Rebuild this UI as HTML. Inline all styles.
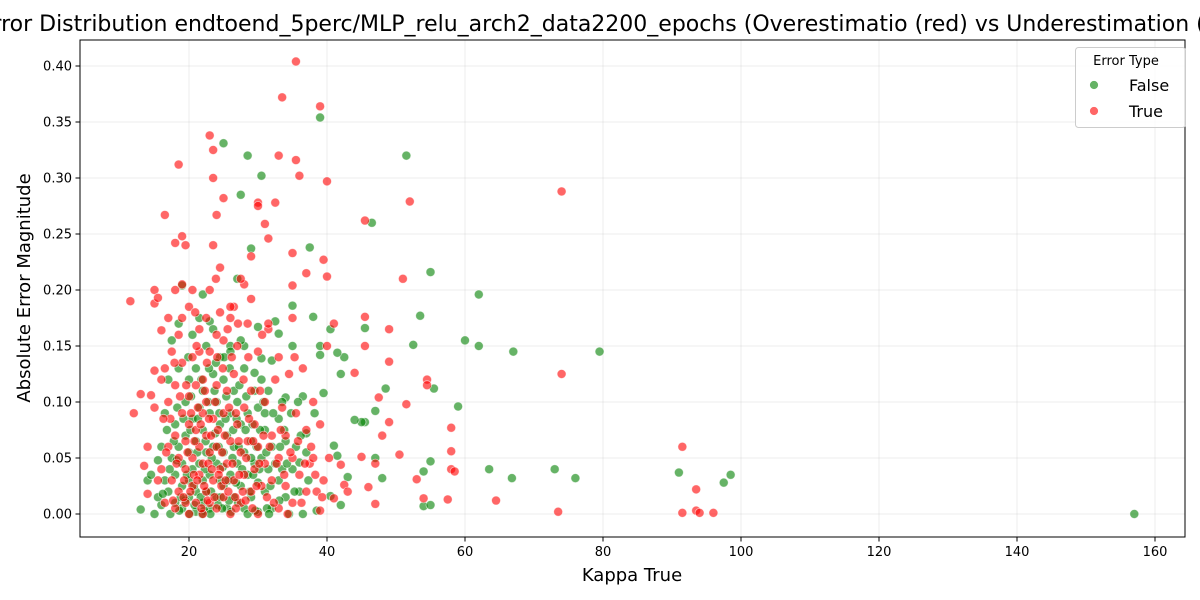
<!DOCTYPE html>
<html><head><meta charset="utf-8">
<style>
html,body{margin:0;padding:0;background:#fff;}
svg{display:block;font-family:"DejaVu Sans","Liberation Sans",sans-serif;}
</style></head>
<body>
<svg id="chart" width="1200" height="600" viewBox="0 0 1200 600">
<text x="632" y="31" font-size="22" text-anchor="middle" fill="#000">Error Distribution endtoend_5perc/MLP_relu_arch2_data2200_epochs (Overestimatio (red) vs Underestimation (green))</text>
<g id="grid"></g>
<g id="points"></g>
<rect x="80" y="40" width="1105" height="497" fill="none" stroke="#000" stroke-width="1"/>
<g id="ticks"></g>
<text x="632" y="581" font-size="18" text-anchor="middle">Kappa True</text>
<text x="30" y="288" font-size="18" text-anchor="middle" transform="rotate(-90 30 288)">Absolute Error Magnitude</text>
<g>
<rect x="1075.5" y="47.5" width="110" height="80" rx="3" fill="#fff" fill-opacity="0.8" stroke="#ccc"/>
<text x="1126" y="65" font-size="13" text-anchor="middle">Error Type</text>
<g><circle cx="1094" cy="85" r="4.5" fill="green" fill-opacity="0.6" stroke="#fff" stroke-width="0.8"/><text x="1129" y="91" font-size="16">False</text></g>
<g><circle cx="1094" cy="111" r="4.5" fill="red" fill-opacity="0.6" stroke="#fff" stroke-width="0.8"/><text x="1129" y="117" font-size="16">True</text></g>
</g>
</svg>
<script>
const xTicks=[20,40,60,80,100,120,140,160];
const yTicks=[0,0.05,0.1,0.15,0.2,0.25,0.3,0.35,0.4];
const yTickLabels=["0.00","0.05","0.10","0.15","0.20","0.25","0.30","0.35","0.40"];
const greenPts=[[157,0.0],[98.5,0.035],[97.5,0.028],[91,0.037],[76,0.032],[73,0.04],[79.5,0.145],[67,0.145],[66.8,0.032],[63.5,0.04],[62,0.196],[62,0.15],[60,0.155],[59,0.096],[55,0.216],[55.5,0.112],[54,0.038],[55,0.047],[54,0.007],[55,0.008],[53.5,0.177],[52.5,0.151],[51.5,0.32],[48.5,0.112],[48,0.032],[47,0.092],[47,0.05],[46.5,0.26],[45.5,0.166],[45.5,0.082],[45,0.082],[44,0.084],[43,0.033],[42.5,0.14],[42,0.125],[42,0.008],[41.5,0.144],[41.5,0.052],[41,0.061],[40.5,0.165],[40.5,0.016],[39.5,0.108],[39,0.354],[39,0.142],[39,0.15],[38.5,0.003],[38,0.176],[37.5,0.238],[37,0.072],[36.5,0.105],[36,0.046],[35,0.186],[35,0.15],[34,0.104],[33.5,0.1],[33,0.161],[32.5,0.172],[32,0.137],[31,0.09],[30.5,0.302],[30.5,0.139],[30,0.167],[29.5,0.126],[29,0.237],[28.5,0.32],[28,0.15],[27.5,0.285],[27,0.21],[26,0.15],[25,0.331],[23,0.172],[22,0.196],[19,0.204],[18.5,0.17],[13,0.004],[14,0.03],[15,0.0],[15.5,0.048],[16,0.008],
[17,0.02],[17.5,0.05],[18,0.01],[18,0.035],[18.5,0.06],[19,0.005],[19,0.025],[19,0.045],[19.5,0.07],[19.5,0.1],[20,0.015],[20,0.03],[20,0.055],[20,0.12],[20.5,0.04],[20.5,0.085],[21,0.002],[21,0.02],[21,0.065],[21,0.13],[21.5,0.045],[21.5,0.095],[22,0.01],[22,0.03],[22,0.075],[22,0.11],[22.5,0.055],[22.5,0.15],[23,0.005],[23,0.035],[23,0.09],[23.5,0.06],[23.5,0.125],[24,0.015],[24,0.045],[24,0.1],[24.5,0.08],[24.5,0.14],[25,0.025],[25,0.055],[25,0.12],[25.5,0.005],[25.5,0.07],[26,0.035],[26,0.09],[26,0.145],[26.5,0.015],[26.5,0.06],[27,0.045],[27,0.1],[27.5,0.025],[27.5,0.08],[28,0.005],[28,0.055],[28,0.13],[28.5,0.035],[28.5,0.09],[29,0.015],[29,0.065],[29.5,0.045],[29.5,0.11],[30,0.002],[30,0.028],[30,0.095],[30.5,0.05],[31,0.02],[31,0.075],[31.5,0.04],[31.5,0.11],[32,0.005],[32,0.06],[33,0.03],[33,0.085],[34,0.015],[34,0.065],[35,0.04],[36,0.02],[37,0.055],[16,0.06],[16.5,0.09],[17,0.12],[17.5,0.155],[18,0.08],[18.5,0.13],[16.5,0.03],[15.5,0.015],[14.5,0.035],[20.5,0.16],[21.5,0.175],[22.5,0.02],[23.5,0.165],[24.5,0.03],[26.5,0.11],[27.5,0.155],[28.5,0.0],[29,0.05],[30.5,0.12],[33.5,0.04],[34.5,0.0],[35.5,0.06],[36.5,0.0],[19.5,0.012],[20.8,0.008],[22.2,0.003],[24.2,0.008],[25.8,0.012],[18.2,0.048],[23.8,0.072],[26.8,0.028],
[16.8,0.075],[17.2,0.04],[17.8,0.065],[18.3,0.095],[18.8,0.015],[19.2,0.085],[19.7,0.035],[20.2,0.075],[20.3,0.105],[20.7,0.025],[21.2,0.055],[21.3,0.085],[21.7,0.015],[21.8,0.12],[22.3,0.04],[22.4,0.065],[22.8,0.1],[23.2,0.02],[23.3,0.05],[23.7,0.11],[23.9,0.135],[24.3,0.06],[24.4,0.09],[24.8,0.005],[24.9,0.042],[25.3,0.085],[25.4,0.105],[25.7,0.03],[25.9,0.13],[26.3,0.05],[26.4,0.075],[26.9,0.085],[27.2,0.06],[27.3,0.115],[27.7,0.04],[28.2,0.075],[28.3,0.105],[28.8,0.02],[29.2,0.08],[29.3,0.035],[29.8,0.06],[30.2,0.04],[30.3,0.075],[30.8,0.1],[31.2,0.055],[31.3,0.005],[31.8,0.025],[32.2,0.09],[32.5,0.045],[33.2,0.06],[33.8,0.075],[34.2,0.045],[34.8,0.09],[35.3,0.02],[35.8,0.1],[36.2,0.07],[37.3,0.03],[38.2,0.09],[20.1,0.0],[21.9,0.0],[23.1,0.0],[24.6,0.015],[26.1,0.002],[27.1,0.01],[29.6,0.003],[31.6,0.0],[33.1,0.012],[17.3,0.0],[18.6,0.003],[16.2,0.018],[19.9,0.14],[22.9,0.13],[25.1,0.14]];
const redPts=[[11.5,0.19],[13,0.107],[13.5,0.043],[14,0.018],[14.5,0.106],[15,0.2],[15,0.188],[15,0.128],[15.5,0.193],[16,0.164],[16.5,0.267],[18.5,0.312],[19,0.248],[19.5,0.24],[18,0.242],[23,0.338],[23.5,0.325],[23.5,0.3],[24,0.267],[25,0.282],[26.5,0.185],[29,0.192],[30,0.278],[30,0.275],[31,0.259],[31.5,0.246],[32.5,0.278],[33,0.32],[33.5,0.372],[35.5,0.404],[35.5,0.316],[36,0.302],[39,0.364],[40,0.297],[39.5,0.227],[40,0.212],[37,0.215],[35,0.233],[35,0.204],[35,0.175],[44,0.126],[45.5,0.262],[45.5,0.176],[45.5,0.15],[49,0.165],[49,0.136],[51,0.21],[52,0.279],[51.5,0.098],[50.5,0.053],[48,0.07],[47.5,0.104],[47,0.045],[46,0.024],[47,0.009],[45,0.051],[42,0.044],[42.5,0.026],[41,0.014],[39,0.003],[43,0.02],[49,0.082],[54.5,0.12],[54.5,0.115],[53,0.031],[54,0.014],[57.5,0.013],[58,0.04],[58,0.056],[58,0.077],[58.5,0.038],[64.5,0.012],[74,0.288],[74,0.125],[73.5,0.002],[91.5,0.06],[91.5,0.001],[93.5,0.022],[93.5,0.003],[94,0.001],[96,0.001],
[16,0.04],[16.5,0.01],[16.5,0.13],[17,0.06],[17,0.1],[17.5,0.03],[17.5,0.145],[18,0.005],[18,0.07],[18,0.115],[18.5,0.02],[18.5,0.05],[18.5,0.16],[19,0.09],[19,0.135],[19,0.175],[19.5,0.01],[19.5,0.04],[19.5,0.065],[20,0.0],[20,0.08],[20,0.105],[20,0.185],[20.5,0.025],[20.5,0.05],[20.5,0.14],[21,0.01],[21,0.075],[21,0.115],[21.5,0.035],[21.5,0.06],[21.5,0.165],[22,0.0],[22,0.045],[22,0.09],[22,0.12],[22.5,0.02],[22.5,0.07],[22.5,0.1],[23,0.01],[23,0.055],[23,0.145],[23,0.2],[23.5,0.03],[23.5,0.085],[23.5,0.24],[24,0.005],[24,0.06],[24,0.115],[24,0.16],[24.5,0.04],[24.5,0.22],[25,0.015],[25,0.09],[25,0.155],[25.5,0.045],[25.5,0.11],[26,0.0],[26,0.065],[26,0.175],[26.5,0.03],[26.5,0.125],[27,0.08],[27,0.15],[27.5,0.01],[27.5,0.055],[28,0.035],[28,0.095],[28,0.205],[28.5,0.065],[28.5,0.17],[29,0.02],[29,0.11],[29.5,0.04],[29.5,0.08],[30,0.0],[30,0.06],[30,0.145],[30.5,0.025],[31,0.045],[31,0.1],[31.5,0.165],[32,0.03],[32,0.07],[32.5,0.12],[33,0.005],[33,0.05],[33,0.14],[33.5,0.095],[34,0.025],[34,0.07],[34.5,0.125],[35,0.01],[35,0.05],[35.5,0.09],[36,0.035],[36.5,0.13],[37,0.02],[37,0.075],[37.5,0.045],[38,0.1],[38,0.05],[38.5,0.02],[39,0.08],[39.5,0.03],[40,0.15],[41,0.17],[12,0.09],[14,0.06],[15,0.095],[15.5,0.03],[16,0.12],[17,0.175],[18,0.2],[19,0.205],[20.5,0.2],[21.5,0.145],[22.5,0.175],[24.5,0.18],[26,0.185],[27.5,0.21],[29,0.23],[31.5,0.17],[19.2,0.015],[20.7,0.035],[22.7,0.012],[24.7,0.025],[26.8,0.005],[28.2,0.012],
[16.7,0.055],[17.3,0.085],[17.7,0.012],[18.2,0.045],[18.7,0.105],[19.3,0.03],[19.8,0.055],[20.2,0.02],[20.3,0.09],[20.8,0.065],[21.2,0.03],[21.3,0.095],[21.8,0.005],[21.7,0.08],[22.2,0.025],[22.3,0.11],[22.8,0.045],[22.9,0.085],[23.3,0.04],[23.2,0.07],[23.7,0.015],[23.8,0.1],[24.3,0.035],[24.2,0.075],[24.8,0.055],[24.9,0.13],[25.3,0.03],[25.2,0.07],[25.7,0.02],[25.8,0.095],[26.3,0.045],[26.2,0.14],[26.7,0.015],[26.8,0.09],[27.3,0.035],[27.2,0.065],[27.8,0.02],[27.9,0.12],[28.3,0.05],[28.7,0.085],[29.2,0.005],[29.3,0.065],[29.8,0.025],[30.2,0.045],[30.3,0.11],[30.8,0.07],[31.3,0.015],[31.7,0.06],[32.3,0.01],[32.7,0.045],[33.3,0.075],[33.8,0.035],[34.3,0.0],[34.7,0.055],[35.3,0.14],[35.8,0.065],[36.3,0.01],[36.8,0.045],[37.7,0.06],[38.3,0.035],[39.3,0.015],[40.3,0.05],[19.6,0.115],[21.1,0.15],[22.6,0.135],[24.1,0.14],[25.6,0.165],[27.1,0.17],[28.6,0.14],[30.6,0.16],[20.9,0.18],[23.9,0.21],[17.9,0.135],[16.3,0.085]];

const NS="http://www.w3.org/2000/svg";
function xs(v){return 51+v*6.9;}
function ys(v){return 514-v*1120;}
const grid=document.getElementById('grid'),ticks=document.getElementById('ticks'),pts=document.getElementById('points');
function mk(tag,attrs,parent){const e=document.createElementNS(NS,tag);for(const k in attrs)e.setAttribute(k,attrs[k]);parent.appendChild(e);return e;}
xTicks.forEach(t=>{
  const x=xs(t);
  const g=mk('line',{x1:x,x2:x,y1:40,y2:537,stroke:'#b0b0b0','stroke-opacity':0.3,'stroke-width':0.8},grid);
  
  
  mk('line',{x1:x,x2:x,y1:537,y2:541.5,stroke:'#000'},ticks);
  const l=mk('text',{x:x,y:556,'font-size':13,'text-anchor':'middle'},ticks);
  l.textContent=t;
  
  
});
yTicks.forEach((t,i)=>{
  const y=ys(t);
  const g=mk('line',{x1:80,x2:1185,y1:y,y2:y,stroke:'#b0b0b0','stroke-opacity':0.3,'stroke-width':0.8},grid);
  
  
  mk('line',{x1:75.5,x2:80,y1:y,y2:y,stroke:'#000'},ticks);
  const l=mk('text',{x:72,y:y+4.5,'font-size':13,'text-anchor':'end'},ticks);
  l.textContent=yTickLabels[i];
  
  
});
function draw(arr,col,name){
  arr.forEach(p=>{
    const c=mk('circle',{cx:xs(p[0]),cy:ys(p[1]),r:4.5,fill:col,'fill-opacity':0.6,stroke:'#fff','stroke-opacity':0.6,'stroke-width':0.8},pts);
    
    
  });
}
draw(greenPts,'green','point-underestimation');
draw(redPts,'red','point-overestimation');
</script>
</body></html>
